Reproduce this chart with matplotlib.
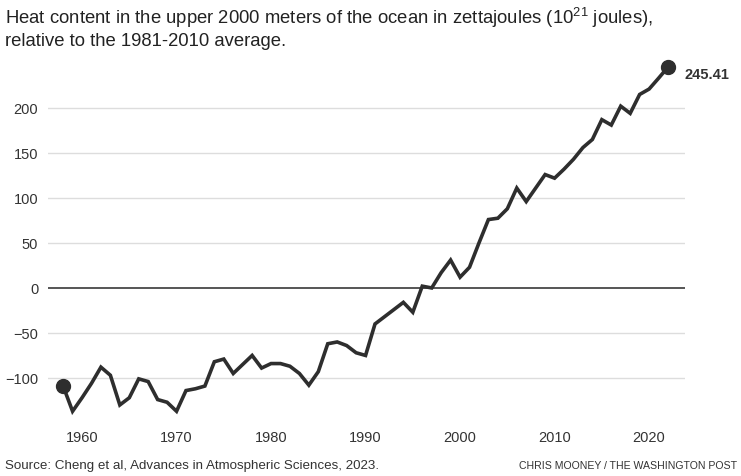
import matplotlib
matplotlib.use("Agg")
import matplotlib.pyplot as plt

years = list(range(1958, 2023))
values = [
    -109, -137, -122, -106, -88, -97, -130, -122, -101, -104,
    -124, -127, -137, -114, -112, -109, -82, -79, -95, -85,
    -75, -89, -84, -84, -87, -95, -108, -93, -62, -60,
    -64, -72, -75, -40, -32, -24, -16, -27, 2, 0,
    17, 31, 12, 23, 50, 76, 77.5, 88, 111, 96,
    111, 126, 122, 132, 143, 156, 165, 187, 181, 202,
    194, 215, 221, 233, 245.41,
]
yticks = [-100, -50, 0, 50, 100, 150, 200]
xticks = [1960, 1970, 1980, 1990, 2000, 2010, 2020]

plt.rcParams['font.family'] = ['Liberation Sans', 'DejaVu Sans']
plt.rcParams['mathtext.default'] = 'regular'

W, H = 741, 477
fig = plt.figure(figsize=(W / 100, H / 100), dpi=100)
ax = fig.add_axes([48 / W, (H - 420) / H, (685 - 48) / W, 360 / H])

ax.set_xlim(1956.4, 2023.8)
ax.set_ylim(-145.6, 254.4)

for yt in yticks:
    if yt == 0:
        ax.axhline(0, color='#555555', lw=1.4, zorder=2)
    else:
        ax.axhline(yt, color='#dddddd', lw=1.0, zorder=1)

ax.plot(years, values, color='#2e2e2e', lw=2.6, solid_joinstyle='miter', zorder=3)
ax.plot([years[0], years[-1]], [values[0], values[-1]], 'o', color='#2e2e2e',
        ms=10, zorder=4)
ax.annotate(f"{values[-1]:.2f}", (years[-1], values[-1]), xytext=(12, -5),
            textcoords='offset points', ha='left', va='center',
            fontsize=10.5, fontweight='bold', color='#333333',
            annotation_clip=False)

ax.set_yticks(yticks)
ax.set_yticklabels([str(v).replace('-', '\u2212') for v in yticks])
ax.set_xticks(xticks)
ax.set_xticklabels([str(v) for v in xticks])
ax.tick_params(axis='both', length=0, labelsize=10.5, colors='#333333')
ax.tick_params(axis='y', pad=7)
ax.tick_params(axis='x', pad=8)
for s in ax.spines.values():
    s.set_visible(False)
ax.set_facecolor('white')

fig.text(5 / W, 1 - 18 / H,
         "Heat content in the upper 2000 meters of the ocean in zettajoules (10$^{21}$ joules),",
         fontsize=13.3, color='#222222', va='center', ha='left')
fig.text(5 / W, 1 - 42 / H, "relative to the 1981-2010 average.",
         fontsize=13.3, color='#222222', va='center', ha='left')
fig.text(5 / W, 1 - 466 / H,
         "Source: Cheng et al, Advances in Atmospheric Sciences, 2023.",
         fontsize=9.6, color='#333333', va='center', ha='left')
fig.text(737 / W, 1 - 466 / H, "CHRIS MOONEY / THE WASHINGTON POST",
         fontsize=7.6, color='#333333', va='center', ha='right')

fig.savefig('out.png', dpi=100, facecolor='white')
